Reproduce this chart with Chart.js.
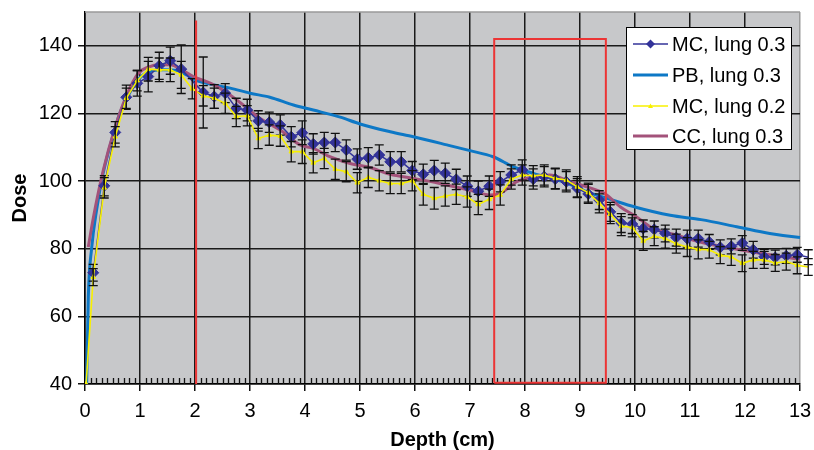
<!DOCTYPE html>
<html>
<head>
<meta charset="utf-8">
<title>Dose vs depth</title>
<script src="https://cdn.jsdelivr.net/npm/chart.js@4.4.1/dist/chart.umd.min.js"></script>
<style>
  html, body { margin: 0; padding: 0; background: #fff; }
  #wrap { width: 814px; height: 450px; }
</style>
</head>
<body>
<div id="wrap"><canvas id="doseChart" width="814" height="450"></canvas></div>
<script>
// Monte Carlo depths (cm), shared by both MC series
const depthMC = [0.02,
  0.15, 0.35, 0.55, 0.75, 0.95, 1.15, 1.35, 1.55, 1.75, 1.95,
  2.15, 2.35, 2.55, 2.75, 2.95, 3.15, 3.35, 3.55, 3.75, 3.95,
  4.15, 4.35, 4.55, 4.75, 4.95, 5.15, 5.35, 5.55, 5.75, 5.95,
  6.15, 6.35, 6.55, 6.75, 6.95, 7.15, 7.35, 7.55, 7.75, 7.95,
  8.15, 8.35, 8.55, 8.75, 8.95, 9.15, 9.35, 9.55, 9.75, 9.95,
  10.15, 10.35, 10.55, 10.75, 10.95, 11.15, 11.35, 11.55, 11.75, 11.95,
  12.15, 12.35, 12.55, 12.75, 12.95, 13.15];

// MC, lung 0.3
const doseMC03 = [null,
  72.9, 98.6, 114.4, 124.8, 128.9, 130.9, 134.1, 135.6, 133.1, null,
  126.2, 125.0, 126.0, 121.5, 121.0, 117.8, 117.4, 116.6, 113.1, 114.3,
  111.0, 111.4, 111.4, 109.2, 106.5, 106.9, 107.7, 105.7, 105.7, 103.1,
  102.0, 103.1, 102.3, 100.5, 98.5, 97.0, 98.5, 99.8, 101.8, 103.3,
  100.6, 101.3, 100.6, 99.8, 97.9, 96.2, 94.4, 90.9, 87.6, 87.3,
  86.0, 85.7, 84.5, 83.3, 83.0, 83.0, 82.0, 80.4, 80.7, 81.7,
  79.7, 77.6, 77.4, 77.9, 78.2, 77.5];
const errMC03 = [null,
  2.5, 3, 3.2, 3.6, 3.8, 4.5, 4, 4, 7.2, null,
  10.5, 3.5, 2.8, 3, 3.2, 3, 3, 3, 3, 3.5,
  3, 3, 2.7, 3, 3, 3, 3, 3, 3, 2.7,
  3, 3, 3, 3, 3, 3, 3, 3, 3, 3,
  3, 3, 3, 3, 2.8, 2.8, 2.8, 2.8, 2.8, 2.8,
  2.5, 2.5, 2.5, 2.5, 2.5, 2.5, 2.2, 2.2, 2.2, 2.2,
  2.5, 2.2, 2.2, 2.2, 2.2, 2.2];

// MC, lung 0.2
const doseMC02 = [40,
  71.6, 98.0, 113.1, 124.5, 129.7, 133.1, 132.9, 132.9, 131.4, 127.3,
  125.2, 124.5, 123.0, 119.1, 119.3, 112.6, 113.6, 113.3, 108.7, 108.7,
  105.4, 106.7, 103.5, 102.8, 99.5, 101.1, 100.1, 99.3, 99.3, 100.1,
  96.1, 94.9, 95.6, 96.1, 95.3, 93.1, 94.6, 95.9, 100.6, 101.8,
  101.6, 101.8, 100.8, 100.3, 98.3, 96.6, 93.4, 90.2, 86.7, 86.3,
  82.3, 83.7, 83.0, 81.5, 80.5, 79.8, 79.7, 78.1, 77.6, 75.7,
  76.7, 76.7, 75.8, 76.2, 75.1, 74.6];
const errMC02 = [null,
  2.5, 3, 3, 3, 3, 3.5, 3.5, 3.5, 4, 3,
  3, 3, 3, 3, 3, 3, 3, 3, 3, 3.5,
  3, 3, 3, 3, 3, 3, 3, 3, 3, 3,
  3.2, 3.2, 3, 3, 3, 3, 3, 3, 3, 3,
  3, 3, 3, 3, 3, 2.8, 2.8, 2.8, 2.8, 2.8,
  2.8, 2.8, 2.8, 2.8, 2.8, 2.8, 2.5, 2.5, 2.5, 2.5,
  2.5, 2.5, 2.5, 2.5, 2.5, 2.5];

// PB, lung 0.3
const depthPB = [0.03, 0.06, 0.12, 0.21, 0.33, 0.5, 0.62, 0.76, 0.97, 1.18,
  1.42, 1.67, 1.85, 2.0, 2.21, 2.64, 3.0, 3.36, 3.79, 4.15,
  4.64, 5.0, 5.55, 5.97, 6.58, 7.0, 7.42, 7.79, 8.15, 8.7,
  9.18, 9.49, 10.03, 10.64, 11.2, 11.85, 12.45, 13.0, 13.25];
const dosePB = [40, 65.7, 80, 91.4, 102.3, 113, 119.5, 124.5, 130.1, 132.4,
  132.9, 132.7, 131.4, 129.9, 128.9, 127.5, 126.0, 124.8, 122.5, 121.0,
  118.9, 116.9, 114.6, 113.1, 110.7, 109.0, 107.2, 104.2, 102.3, 99.8,
  96.5, 94.9, 92.2, 89.9, 88.6, 86.5, 84.5, 83.3, 83.0];

// CC, lung 0.3
const depthCC = [0.06, 0.15, 0.33, 0.55, 0.76, 0.97, 1.15, 1.36, 1.55, 1.76,
  1.97, 2.21, 2.45, 2.76, 3.18, 3.55, 3.91, 4.15, 4.45, 4.82,
  5.18, 5.55, 5.97, 6.45, 7.0, 7.36, 7.55, 7.85, 8.15, 8.45,
  8.82, 9.18, 9.45, 9.73, 10.03, 10.33, 10.76, 11.2, 11.88, 12.42,
  13.0, 13.23];
const doseCC = [80.5, 89, 103, 116, 125.5, 131.9, 133.7, 134.4, 134.4, 132.9,
  130.9, 129.4, 127.5, 124.0, 118.6, 115.1, 110.7, 109.7, 107.2, 105.2,
  104.0, 102.0, 100.8, 99.3, 97.3, 95.9, 96.4, 99.8, 101.3, 101.8,
  99.8, 98.0, 96.3, 92.4, 89.4, 86.0, 84.0, 81.9, 79.8, 78.3,
  76.9, 76.5];

// red markers drawn on the figure
const redLineX = [2.02, 2.02];
const redLineY = [40, 147.5];
const redBoxX = [7.44, 7.44, 9.47, 9.47, 7.44];
const redBoxY = [40.4, 142, 142, 40.4, 40.4];

const seriesLabels = ['MC, lung 0.3', 'PB, lung 0.3', 'MC, lung 0.2', 'CC, lung 0.3'];
const xTicks = [0, 1, 2, 3, 4, 5, 6, 7, 8, 9, 10, 11, 12, 13];
const yTicks = [40, 60, 80, 100, 120, 140];

const FONT = "'Liberation Sans', Arial, sans-serif";
const COL_MC03 = '#333399';
const COL_PB = '#0d78c6';
const COL_MC02 = '#f8f000';
const COL_CC = '#a3527a';
const COL_RED = '#ec3535';

function pts(xs, ys) {
    return xs.map((x, i) => ({ x: x, y: ys[i] }));
}

// hide markers that lie past the end of the axis
function markerSize(r) {
    return ctx => (ctx.raw && ctx.raw.x > 13 ? 0 : r);
}

// backdrop, top/right frame and the small inside ticks on the depth axis
const plotFrame = {
    id: 'plotFrame',
    beforeDraw(chart) {
        const { ctx, chartArea: a } = chart;
        ctx.save();
        ctx.fillStyle = '#fff';
        ctx.fillRect(0, 0, chart.width, chart.height);
        ctx.fillStyle = '#c7c8ca';
        ctx.fillRect(a.left, a.top, a.right - a.left, a.bottom - a.top);
        ctx.restore();
    },
    beforeDatasetsDraw(chart) {
        const { ctx, chartArea: a } = chart;
        const xs = chart.scales.x;
        ctx.save();
        ctx.strokeStyle = '#9a9a9a';
        ctx.lineWidth = 1.5;
        ctx.beginPath();
        ctx.moveTo(a.left, a.top);
        ctx.lineTo(a.right, a.top);
        ctx.stroke();
        ctx.strokeStyle = '#111';
        ctx.lineWidth = 1.3;
        ctx.beginPath();
        for (let i = 1; i < 130; i++) {
            if (i % 10 === 0) continue;
            const px = Math.round(xs.getPixelForValue(i / 10)) + 0.5;
            ctx.moveTo(px, a.bottom);
            ctx.lineTo(px, a.bottom - 6);
        }
        ctx.stroke();
        ctx.restore();
    }
};

// vertical error bars with caps for the MC series
const errorBars = {
    id: 'errorBars',
    afterDatasetDraw(chart, args) {
        const ds = chart.data.datasets[args.index];
        if (!ds.errors) return;
        const { ctx } = chart;
        const ys = chart.scales.y;
        ctx.save();
        ctx.strokeStyle = '#111';
        ctx.lineWidth = 1.3;
        ctx.beginPath();
        args.meta.data.forEach((pt, i) => {
            const v = ds.data[i].y;
            const e = ds.errors[i];
            if (v == null || e == null) return;
            const x = pt.x;
            const y1 = ys.getPixelForValue(v + e);
            const y2 = ys.getPixelForValue(v - e);
            ctx.moveTo(x, y1); ctx.lineTo(x, y2);
            ctx.moveTo(x - 4.5, y1); ctx.lineTo(x + 4.5, y1);
            ctx.moveTo(x - 4.5, y2); ctx.lineTo(x + 4.5, y2);
        });
        ctx.stroke();
        ctx.restore();
    }
};

// boxed legend in the top right corner
const boxLegend = {
    id: 'boxLegend',
    afterDraw(chart) {
        const { ctx } = chart;
        const left = 626, top = 27, w = 165, h = 122;
        ctx.save();
        ctx.fillStyle = '#fff';
        ctx.fillRect(left, top, w, h);
        ctx.strokeStyle = '#000';
        ctx.lineWidth = 1;
        ctx.strokeRect(left + 0.5, top + 0.5, w, h);
        const rows = [44, 75, 106, 136];
        const styles = [
            { c: COL_MC03, lw: 1.5, mark: 'diamond' },
            { c: COL_PB, lw: 3, mark: null },
            { c: COL_MC02, lw: 1.5, mark: 'tri' },
            { c: COL_CC, lw: 3, mark: null }
        ];
        ctx.font = '20px ' + FONT;
        ctx.textBaseline = 'middle';
        rows.forEach((y, i) => {
            const s = styles[i];
            ctx.strokeStyle = s.c;
            ctx.lineWidth = s.lw;
            ctx.beginPath();
            ctx.moveTo(633, y);
            ctx.lineTo(668, y);
            ctx.stroke();
            ctx.fillStyle = s.c;
            if (s.mark === 'diamond') {
                ctx.beginPath();
                ctx.moveTo(650.5, y - 4.5);
                ctx.lineTo(655, y);
                ctx.lineTo(650.5, y + 4.5);
                ctx.lineTo(646, y);
                ctx.closePath();
                ctx.fill();
            } else if (s.mark === 'tri') {
                ctx.beginPath();
                ctx.moveTo(650.5, y - 2.5);
                ctx.lineTo(653, y + 2);
                ctx.lineTo(648, y + 2);
                ctx.closePath();
                ctx.fill();
            }
            ctx.fillStyle = '#000';
            ctx.fillText(seriesLabels[i], 672, y + 1);
        });
        ctx.restore();
    }
};

const clipRight = { left: 0, top: 0, right: false, bottom: 0 };

new Chart(document.getElementById('doseChart'), {
    type: 'line',
    data: {
        datasets: [
            {
                label: 'red line', data: pts(redLineX, redLineY),
                borderColor: COL_RED, borderWidth: 2, pointRadius: 0, tension: 0
            },
            {
                label: 'red box', data: pts(redBoxX, redBoxY),
                borderColor: COL_RED, borderWidth: 2, pointRadius: 0, tension: 0
            },
            {
                label: seriesLabels[2], data: pts(depthMC, doseMC02), errors: errMC02,
                borderColor: COL_MC02, backgroundColor: COL_MC02, borderWidth: 1.6,
                pointStyle: 'triangle', pointRadius: markerSize(2.6), pointBorderWidth: 1,
                tension: 0, spanGaps: true, clip: clipRight
            },
            {
                label: seriesLabels[0], data: pts(depthMC, doseMC03), errors: errMC03,
                borderColor: COL_MC03, backgroundColor: COL_MC03, borderWidth: 1.5,
                pointStyle: 'rectRot', pointRadius: markerSize(5.5), pointBorderWidth: 1,
                tension: 0, spanGaps: true, clip: clipRight
            },
            {
                label: seriesLabels[3], data: pts(depthCC, doseCC),
                borderColor: COL_CC, borderWidth: 3, pointRadius: 0,
                cubicInterpolationMode: 'monotone', clip: clipRight
            },
            {
                label: seriesLabels[1], data: pts(depthPB, dosePB),
                borderColor: COL_PB, borderWidth: 3, pointRadius: 0,
                cubicInterpolationMode: 'monotone', clip: clipRight
            }
        ]
    },
    options: {
        responsive: false,
        animation: false,
        devicePixelRatio: 1,
        layout: { padding: { top: 12, right: 14, left: 0, bottom: 0 } },
        plugins: {
            legend: { display: false },
            tooltip: { enabled: false }
        },
        scales: {
            x: {
                type: 'linear',
                min: 0,
                max: 13,
                afterBuildTicks: axis => { axis.ticks = xTicks.map(v => ({ value: v })); },
                afterFit: axis => {
                    axis.height = 66;
                    axis.paddingLeft = 0;
                    axis.paddingRight = 0;
                },
                ticks: {
                    autoSkip: false, maxRotation: 0, padding: 8,
                    color: '#000', font: { family: FONT, size: 20 }
                },
                grid: {
                    color: c => (c.tick && c.tick.value === 13 ? '#9a9a9a' : '#1a1a1a'),
                    lineWidth: 1.5,
                    tickColor: '#111',
                    tickLength: 7
                },
                border: { color: '#000', width: 1.5 },
                title: {
                    display: true, text: 'Depth (cm)', color: '#000',
                    font: { family: FONT, size: 20, weight: 'bold', lineHeight: 1 },
                    padding: { top: 0, bottom: 0 }
                }
            },
            y: {
                min: 40,
                max: 150,
                afterBuildTicks: axis => { axis.ticks = yTicks.map(v => ({ value: v })); },
                afterFit: axis => {
                    axis.width = 85;
                    axis.paddingTop = 0;
                    axis.paddingBottom = 0;
                },
                ticks: {
                    padding: 6, color: '#000', font: { family: FONT, size: 20 }
                },
                grid: {
                    color: '#1a1a1a',
                    lineWidth: 1.5,
                    tickColor: '#111',
                    tickLength: 7
                },
                border: { color: '#000', width: 1.5 },
                title: {
                    display: true, text: 'Dose', color: '#000',
                    font: { family: FONT, size: 20, weight: 'bold', lineHeight: 1 },
                    padding: { top: 10, bottom: 0 }
                }
            }
        }
    },
    plugins: [plotFrame, errorBars, boxLegend]
});
</script>
</body>
</html>
